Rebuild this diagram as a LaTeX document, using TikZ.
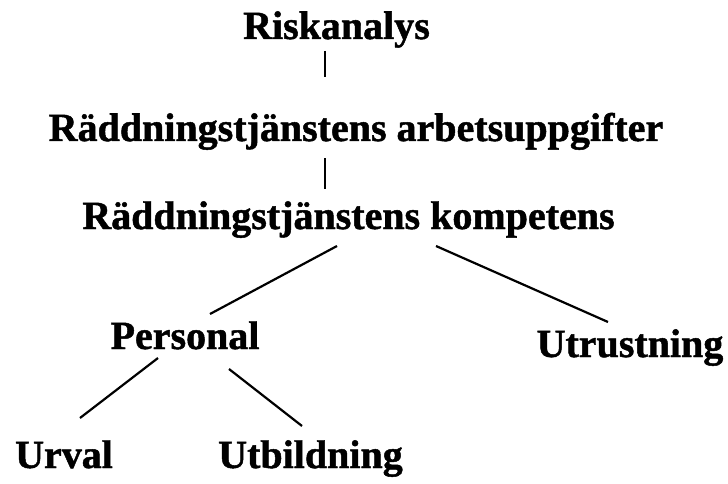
\documentclass[tikz,border=0pt]{standalone}
\usepackage{fontspec}
\setmainfont{Liberation Serif}[BoldFeatures={FakeBold=1.2}]
\usetikzlibrary{calc}

\begin{document}
\begin{tikzpicture}[
      x=1pt, y=-1pt,
      lbl/.style={
        anchor=base,
        inner sep=0pt,
        font=\bfseries\fontsize{40}{48}\selectfont},
      branch/.style={
        line width=2.2pt}]
    \useasboundingbox (0,0) rectangle (728,484);

    \node [lbl] (risk) at (336.5,39)  {Riskanalys};
    \node [lbl] (arb)  at (356,141)   {Räddningstjänstens arbetsuppgifter};
    \node [lbl] (komp) at (348.5,229) {Räddningstjänstens kompetens};
    \node [lbl] (pers) at (185,349)   {Personal};
    \node [lbl] (utr)  at (630,357)   {Utrustning};
    \node [lbl] (urv)  at (64,468)    {Urval};
    \node [lbl] (utb)  at (310.5,468) {Utbildning};

    \draw [branch] ([xshift=-11.5pt,yshift=-12pt]risk.base) -- ([xshift=-31pt,yshift=64pt]arb.base);
    \draw [branch] ([xshift=-31pt,yshift=-17pt]arb.base)    -- ([xshift=-23.5pt,yshift=40pt]komp.base);
    \draw [branch] ([xshift=-11.5pt,yshift=-17pt]komp.base) -- ([xshift=25pt,yshift=35pt]pers.base);
    \draw [branch] ([xshift=87.5pt,yshift=-17pt]komp.base)  -- ([xshift=-22pt,yshift=35pt]utr.base);
    \draw [branch] ([xshift=-27pt,yshift=-9pt]pers.base)    -- ([xshift=16pt,yshift=50pt]urv.base);
    \draw [branch] ([xshift=44pt,yshift=-20pt]pers.base)    -- ([xshift=-8.5pt,yshift=42pt]utb.base);
  \end{tikzpicture}
\end{document}
